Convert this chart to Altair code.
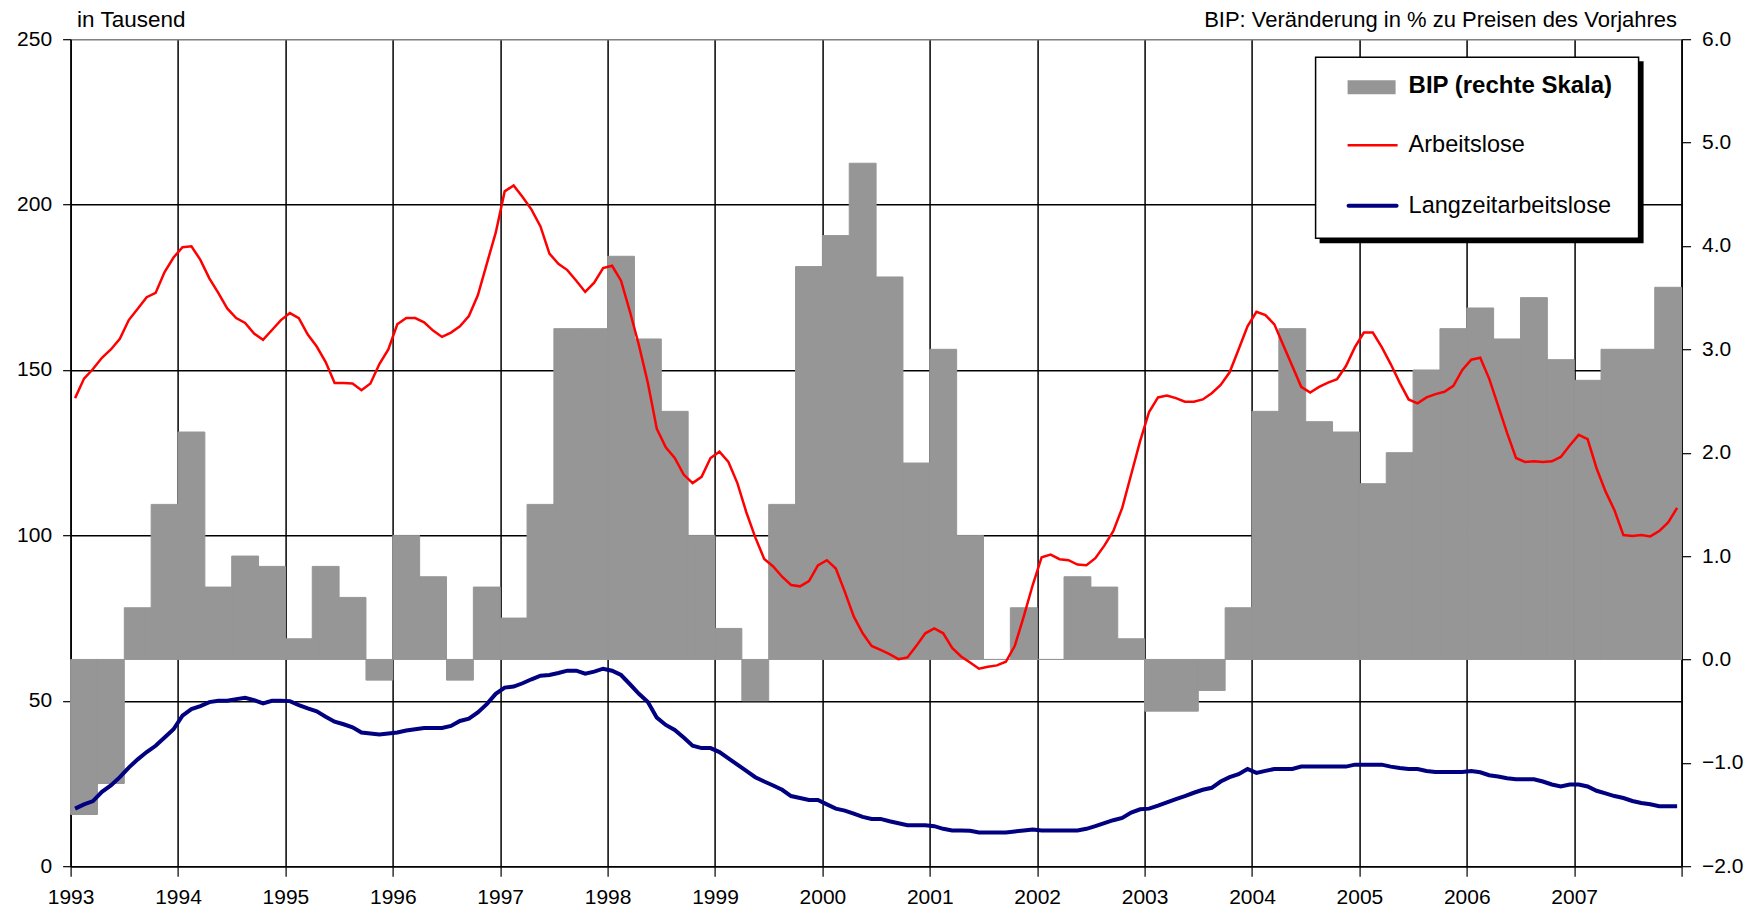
import altair as alt
import pandas as pd

# ---------------- data ----------------
years = list(range(1993, 2008))

# BIP: quarterly change in % (right scale), Q1 1993 .. Q4 2007
bip = [
    -1.5, -1.2, 0.5, 1.5,
    2.2, 0.7, 1.0, 0.9,
    0.2, 0.9, 0.6, -0.2,
    1.2, 0.8, -0.2, 0.7,
    0.4, 1.5, 3.2, 3.2,
    3.9, 3.1, 2.4, 1.2,
    0.3, -0.4, 1.5, 3.8,
    4.1, 4.8, 3.7, 1.9,
    3.0, 1.2, 0.0, 0.5,
    0.0, 0.8, 0.7, 0.2,
    -0.5, -0.5, -0.3, 0.5,
    2.4, 3.2, 2.3, 2.2,
    1.7, 2.0, 2.8, 3.2,
    3.4, 3.1, 3.5, 2.9,
    2.7, 3.0, 3.0, 3.6,
]

# Arbeitslose in Tausend, monthly Jan 1993 .. Dec 2007
arbeitslose = [
    141.5, 147.4, 150.3, 153.7, 156.2, 159.4, 165.1, 168.5, 172.0, 173.3, 179.6, 184.0,
    187.1, 187.4, 183.3, 177.7, 173.3, 168.6, 165.7, 164.2, 161.0, 159.1, 162.1, 165.1,
    167.2, 165.7, 160.7, 157.1, 152.4, 146.1, 146.1, 145.9, 143.9, 145.9, 151.8, 156.2,
    163.8, 165.7, 165.7, 164.4, 161.9, 160.0, 161.3, 163.2, 166.3, 172.6, 182.1, 191.5,
    204.0, 205.8, 202.3, 198.5, 193.4, 185.2, 182.1, 180.2, 177.0, 173.6, 176.4, 180.8,
    181.5, 177.0, 167.6, 157.5, 146.1, 132.2, 126.6, 123.4, 118.4, 115.8, 117.7, 123.4,
    125.3, 122.2, 115.8, 107.0, 99.4, 92.9, 90.6, 87.5, 85.0, 84.6, 86.2, 90.9,
    92.5, 90.0, 83.0, 75.5, 70.4, 66.6, 65.4, 64.1, 62.6, 63.1, 66.6, 70.4,
    71.9, 70.4, 66.0, 63.4, 61.6, 59.7, 60.3, 60.7, 61.8, 66.6, 75.5, 85.0,
    93.4, 94.2, 92.8, 92.5, 91.2, 91.0, 93.1, 96.9, 101.3, 108.3, 118.4, 128.5,
    137.3, 141.7, 142.3, 141.5, 140.4, 140.4, 141.1, 143.0, 145.5, 149.3, 156.2, 163.2,
    167.6, 166.6, 163.8, 157.5, 151.2, 144.9, 143.2, 144.9, 146.2, 147.2, 151.2, 156.9,
    161.3, 161.3, 156.9, 151.8, 146.2, 141.1, 139.9, 141.7, 142.7, 143.4, 145.2, 150.0,
    153.1, 153.7, 147.4, 139.2, 131.0, 123.4, 122.2, 122.4, 122.2, 122.4, 123.7, 127.2,
    130.4, 129.1, 120.3, 113.3, 107.6, 100.1, 99.8, 100.1, 99.7, 101.3, 103.9, 108.3,
]

# Langzeitarbeitslose in Tausend, monthly Jan 1993 .. Dec 2007
langzeit = [
    17.4, 18.7, 19.7, 22.5, 24.4, 26.9, 29.8, 32.3, 34.5, 36.4, 38.9, 41.4,
    45.5, 47.5, 48.4, 49.6, 50.0, 50.0, 50.5, 50.9, 50.2, 49.2, 50.0, 50.0,
    49.9, 48.7, 47.7, 46.8, 45.2, 43.7, 42.9, 42.0, 40.4, 40.1, 39.8, 40.1,
    40.4, 41.0, 41.4, 41.8, 41.8, 41.8, 42.4, 43.9, 44.6, 46.5, 49.0, 52.1,
    54.0, 54.3, 55.3, 56.5, 57.6, 57.8, 58.4, 59.1, 59.1, 58.2, 58.8, 59.7,
    59.1, 57.8, 55.0, 52.1, 49.6, 44.9, 42.7, 41.2, 38.9, 36.4, 35.7, 35.7,
    34.5, 32.6, 30.7, 28.8, 26.9, 25.6, 24.4, 23.1, 21.2, 20.6, 20.0, 20.0,
    18.7, 17.4, 16.8, 15.9, 14.9, 14.3, 14.3, 13.6, 13.0, 12.4, 12.4, 12.4,
    12.1, 11.3, 10.8, 10.8, 10.7, 10.2, 10.2, 10.2, 10.2, 10.5, 10.8, 11.1,
    10.8, 10.8, 10.8, 10.8, 10.8, 11.3, 12.1, 13.0, 13.9, 14.6, 16.2, 17.2,
    17.4, 18.3, 19.3, 20.3, 21.2, 22.2, 23.1, 23.7, 25.6, 26.9, 27.8, 29.4,
    28.2, 28.8, 29.4, 29.4, 29.4, 30.1, 30.1, 30.1, 30.1, 30.1, 30.1, 30.7,
    30.7, 30.7, 30.7, 30.1, 29.7, 29.4, 29.4, 28.8, 28.5, 28.5, 28.5, 28.5,
    28.8, 28.4, 27.5, 27.1, 26.6, 26.3, 26.3, 26.3, 25.6, 24.7, 24.1, 24.7,
    24.7, 24.1, 22.8, 22.0, 21.2, 20.6, 19.7, 19.1, 18.7, 18.1, 18.1, 18.1,
]

left_ticks = [0, 50, 100, 150, 200, 250]
right_ticks = [-2, -1, 0, 1, 2, 3, 4, 5, 6]
left_title = "in Tausend"
right_title = "BIP: Veränderung in % zu Preisen des Vorjahres"
legend_labels = ["BIP (rechte Skala)", "Arbeitslose", "Langzeitarbeitslose"]

# ---------------- tables ----------------
start = years[0]
bars_df = pd.DataFrame({
    "t0": [start + q / 4 for q in range(len(bip))],
    "t1": [start + (q + 1) / 4 for q in range(len(bip))],
    "bip": bip,
    "zero": [0.0] * len(bip),
})
lines_df = pd.DataFrame({
    "t": [start + (m + 0.5) / 12 for m in range(len(arbeitslose))],
    "arbeitslose": arbeitslose,
    "langzeit": langzeit,
})

FONT = "Liberation Sans, Arial, sans-serif"
FS = 21

x_axis = alt.Axis(
    values=list(range(1993, 2009)), format="d",
    labelExpr="datum.value == 2008 ? '' : datum.label",
    grid=True, gridColor="black", gridWidth=1.5,
    tickSize=10, tickColor="black", tickWidth=1.2,
    domainColor="black", domainWidth=1.5,
    labelFontSize=FS, labelPadding=10, labelOverlap=False, labelFlush=False,
    title=None,
)
x_scale = alt.Scale(domain=[1993, 2008], nice=False, zero=False)


def X(field):
    return alt.X(field, type="quantitative", scale=x_scale, axis=x_axis)


bars = alt.Chart(bars_df).mark_rect(
    fill="#969696", stroke="#969696", strokeWidth=1
).encode(
    x=X("t0"),
    x2="t1",
    y=alt.Y("bip:Q",
            scale=alt.Scale(domain=[-2, 6], nice=False, zero=False),
            axis=alt.Axis(orient="right", values=right_ticks, format=".1f",
                          grid=False, tickSize=9, tickColor="black", tickWidth=1.2,
                          domainColor="black", domainWidth=1.5,
                          labelFontSize=FS, labelPadding=11, labelAlign="left",
                          title=right_title, titleAngle=0, titleAlign="right",
                          titleBaseline="middle", titleX=-5, titleY=-20,
                          titleFontWeight="normal", titleFontSize=22)),
    y2="zero:Q",
)

left_y_scale = alt.Scale(domain=[0, 250], nice=False, zero=True)
left_axis = alt.Axis(
    values=left_ticks, grid=True,
    gridColor={"condition": {"test": "datum.value == 250", "value": "#808080"}, "value": "black"},
    gridWidth=1.5,
    tickSize=8, tickColor="black", tickWidth=1.2,
    domainColor="black", domainWidth=1.5,
    labelFontSize=FS, labelPadding=11,
    title=left_title, titleAngle=0, titleAlign="left", titleBaseline="middle",
    titleX=6, titleY=-20, titleFontWeight="normal", titleFontSize=22.5,
)

red = alt.Chart(lines_df).mark_line(color="#FF0000", strokeWidth=2.5).encode(
    x=X("t"),
    y=alt.Y("arbeitslose:Q", scale=left_y_scale, axis=left_axis),
)
blue = alt.Chart(lines_df).mark_line(color="#000080", strokeWidth=4).encode(
    x=X("t"),
    y=alt.Y("langzeit:Q", scale=left_y_scale, axis=left_axis),
)
lines = alt.layer(red, blue)

# ---------------- legend (decoration) ----------------
one = alt.Data(values=[{"k": 1}])
shadow = alt.Chart(one).mark_rect(color="black").encode(
    x=alt.value(1249), x2=alt.value(1573), y=alt.value(22), y2=alt.value(204))
box = alt.Chart(one).mark_rect(fill="white", stroke="black", strokeWidth=1.5).encode(
    x=alt.value(1245), x2=alt.value(1568), y=alt.value(18), y2=alt.value(199))
sw_bar = alt.Chart(one).mark_rect(color="#969696").encode(
    x=alt.value(1277), x2=alt.value(1325), y=alt.value(41), y2=alt.value(55))
sw_red = alt.Chart(one).mark_rule(color="#FF0000", strokeWidth=2.5).encode(
    x=alt.value(1277), x2=alt.value(1327), y=alt.value(106))
sw_blue = alt.Chart(one).mark_rule(color="#000080", strokeWidth=4, strokeCap="round").encode(
    x=alt.value(1278), x2=alt.value(1326), y=alt.value(166.5))
t1 = alt.Chart(one).mark_text(align="left", baseline="middle", font=FONT, fontSize=24,
                              fontWeight="bold", color="black").encode(
    x=alt.value(1338), y=alt.value(47), text=alt.value(legend_labels[0]))
t2 = alt.Chart(one).mark_text(align="left", baseline="middle", font=FONT, fontSize=23.5,
                              color="black").encode(
    x=alt.value(1338), y=alt.value(106), text=alt.value(legend_labels[1]))
t3 = alt.Chart(one).mark_text(align="left", baseline="middle", font=FONT, fontSize=23.5,
                              color="black").encode(
    x=alt.value(1338), y=alt.value(167), text=alt.value(legend_labels[2]))

chart = alt.layer(
    bars, lines, shadow, box, sw_bar, sw_red, sw_blue, t1, t2, t3
).resolve_scale(y="independent").properties(
    width=1611, height=827,
    autosize=alt.AutoSizeParams(type="none"),
    padding={"left": 62.6, "top": 31.2, "right": 64, "bottom": 46},
).configure_view(
    fill="#C0C0C0", stroke="#808080", strokeWidth=1
).configure_axis(
    labelFont=FONT, titleFont=FONT, labelColor="black", titleColor="black",
).configure(background="white")

chart.save("out.html", embed_options={"renderer": "svg", "actions": False})
